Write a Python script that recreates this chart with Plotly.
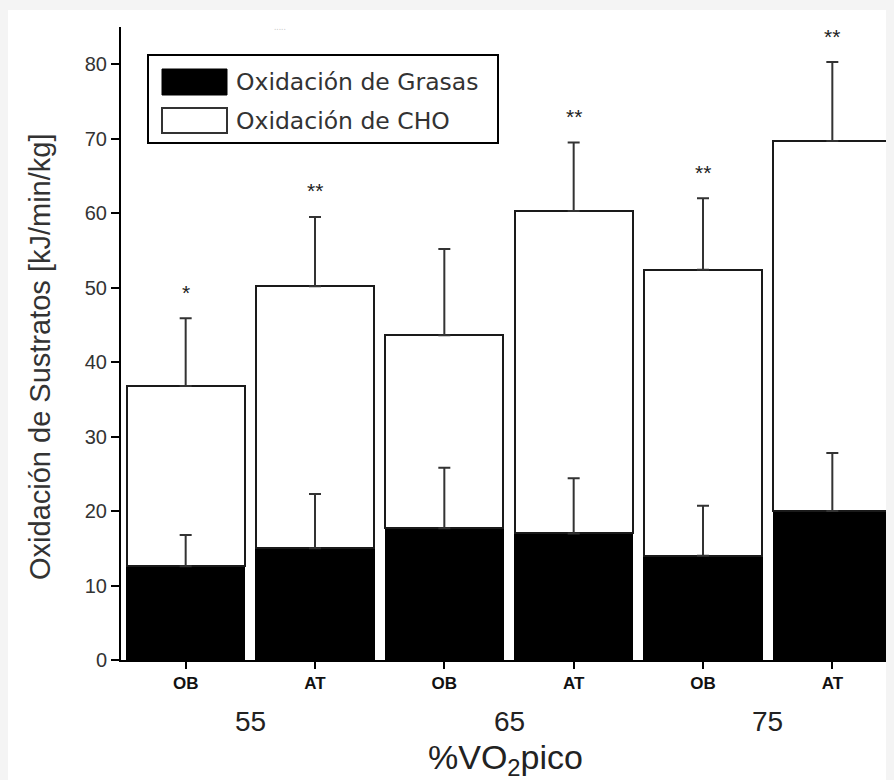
import plotly.graph_objects as go

# ---- data ----
groups = ["OB", "AT", "OB", "AT", "OB", "AT"]
intensity_labels = ["55", "65", "75"]
fat = [12.6, 15.0, 17.7, 17.0, 14.0, 20.0]
fat_err = [4.2, 7.3, 8.1, 7.4, 6.7, 7.8]
cho = [24.2, 35.2, 25.9, 43.3, 38.4, 49.7]
cho_err = [9.1, 9.3, 11.6, 9.2, 9.6, 10.6]
sig = ["*", "**", "", "**", "**", "**"]

pos = list(range(len(groups)))
total = [f + c for f, c in zip(fat, cho)]

OFF = 8  # page body margin
W, H = 894, 780
L, R, T, B = 121 - OFF, 13 - OFF, 27 - OFF, 120 + OFF
pw, ph = W - L - R, H - T - B


def px(x):
    return (x - OFF - L) / pw


def py(y):
    return (H - B - (y - OFF)) / ph


fig = go.Figure()
fig.add_trace(go.Bar(x=pos, y=fat, width=0.91, name="Oxidación de Grasas",
                     marker=dict(color="black", line=dict(color="black", width=1.5))))
fig.add_trace(go.Bar(x=pos, y=cho, width=0.91, name="Oxidación de CHO",
                     marker=dict(color="white", line=dict(color="#1a1a1a", width=2))))

fig.add_trace(go.Scatter(x=pos, y=fat, mode="markers", showlegend=False, hoverinfo="skip",
                         marker=dict(size=1, color="rgba(0,0,0,0)"),
                         error_y=dict(type="data", symmetric=False, array=fat_err,
                                      arrayminus=[0] * len(pos), color="#333",
                                      thickness=2, width=6)))
fig.add_trace(go.Scatter(x=pos, y=total, mode="markers", showlegend=False, hoverinfo="skip",
                         marker=dict(size=1, color="rgba(0,0,0,0)"),
                         error_y=dict(type="data", symmetric=False, array=cho_err,
                                      arrayminus=[0] * len(pos), color="#333",
                                      thickness=2, width=6)))

ann = []
for i, s in enumerate(sig):
    if s:
        ann.append(dict(x=i, y=total[i] + cho_err[i], xref="x", yref="y", text=s,
                        showarrow=False, yanchor="middle", yshift=26,
                        font=dict(family="Liberation Sans, Arial", size=21, color="#222")))
for k, lab in enumerate(intensity_labels):
    ann.append(dict(x=2 * k + 0.5, y=py(721), xref="x", yref="paper", text=lab,
                    showarrow=False, yanchor="middle",
                    font=dict(family="Liberation Sans, Arial", size=28, color="#222")))
ann.append(dict(x=px(505), y=py(759), xref="paper", yref="paper",
                text="%VO<sub>2</sub>pico",
                showarrow=False, yanchor="middle",
                font=dict(family="Liberation Sans, Arial", size=34, color="#222")))
ann.append(dict(x=px(40), y=py(357), xref="paper", yref="paper",
                text="Oxidación de Sustratos [kJ/min/kg]", textangle=-90,
                showarrow=False, xanchor="center", yanchor="middle",
                font=dict(family="Liberation Sans, Arial", size=29, color="#333")))
# custom legend texts
ann.append(dict(x=px(234), y=py(82), xref="paper", yref="paper", text="Oxidación de Grasas",
                showarrow=False, xanchor="left", yanchor="middle",
                font=dict(family="DejaVu Sans, Verdana", size=23.5, color="#333")))
ann.append(dict(x=px(234), y=py(121), xref="paper", yref="paper", text="Oxidación de CHO",
                showarrow=False, xanchor="left", yanchor="middle",
                font=dict(family="DejaVu Sans, Verdana", size=23.5, color="#333")))
ann.append(dict(x=px(272), y=py(18), xref="paper", yref="paper", text=".....",
                showarrow=False, font=dict(size=9, color="#c8c8c8")))

shapes = [
    # white page over the grey border
    dict(type="rect", xref="paper", yref="paper", x0=px(7), x1=px(W + 20), y0=py(H + 20), y1=py(10),
         fillcolor="white", line=dict(width=0), layer="below"),
    # legend box
    dict(type="rect", xref="paper", yref="paper", x0=px(148), x1=px(498), y0=py(143), y1=py(55),
         fillcolor="white", line=dict(color="black", width=2)),
    dict(type="rect", xref="paper", yref="paper", x0=px(162), x1=px(227), y0=py(95), y1=py(69),
         fillcolor="black", line=dict(color="black", width=1)),
    dict(type="rect", xref="paper", yref="paper", x0=px(162), x1=px(227), y0=py(133), y1=py(108),
         fillcolor="white", line=dict(color="#333", width=2)),
]

fig.update_layout(
    width=W, height=H, autosize=False,
    margin=dict(l=L, r=R, t=T, b=B),
    barmode="stack",
    showlegend=False,
    paper_bgcolor="#f4f4f4",
    plot_bgcolor="white",
    annotations=ann,
    shapes=shapes,
    xaxis=dict(range=[-0.5, 5.5], tickvals=pos, ticktext=["<b>%s</b>" % g for g in groups],
               showline=True, linecolor="black", linewidth=2, ticks="outside", ticklen=7,
               tickwidth=1.5, tickcolor="black", showgrid=False, zeroline=False,
               tickfont=dict(family="Liberation Sans, Arial", size=17, color="#111")),
    yaxis=dict(range=[0, 85], dtick=10, showline=True, linecolor="black", linewidth=2,
               ticks="outside", ticklen=8, tickwidth=2, tickcolor="black",
               showgrid=False, zeroline=False,
               tickfont=dict(family="Liberation Sans, Arial", size=20, color="#333")),
)

fig.write_html("out.html", post_script="document.body.style.background='#f4f4f4';")
